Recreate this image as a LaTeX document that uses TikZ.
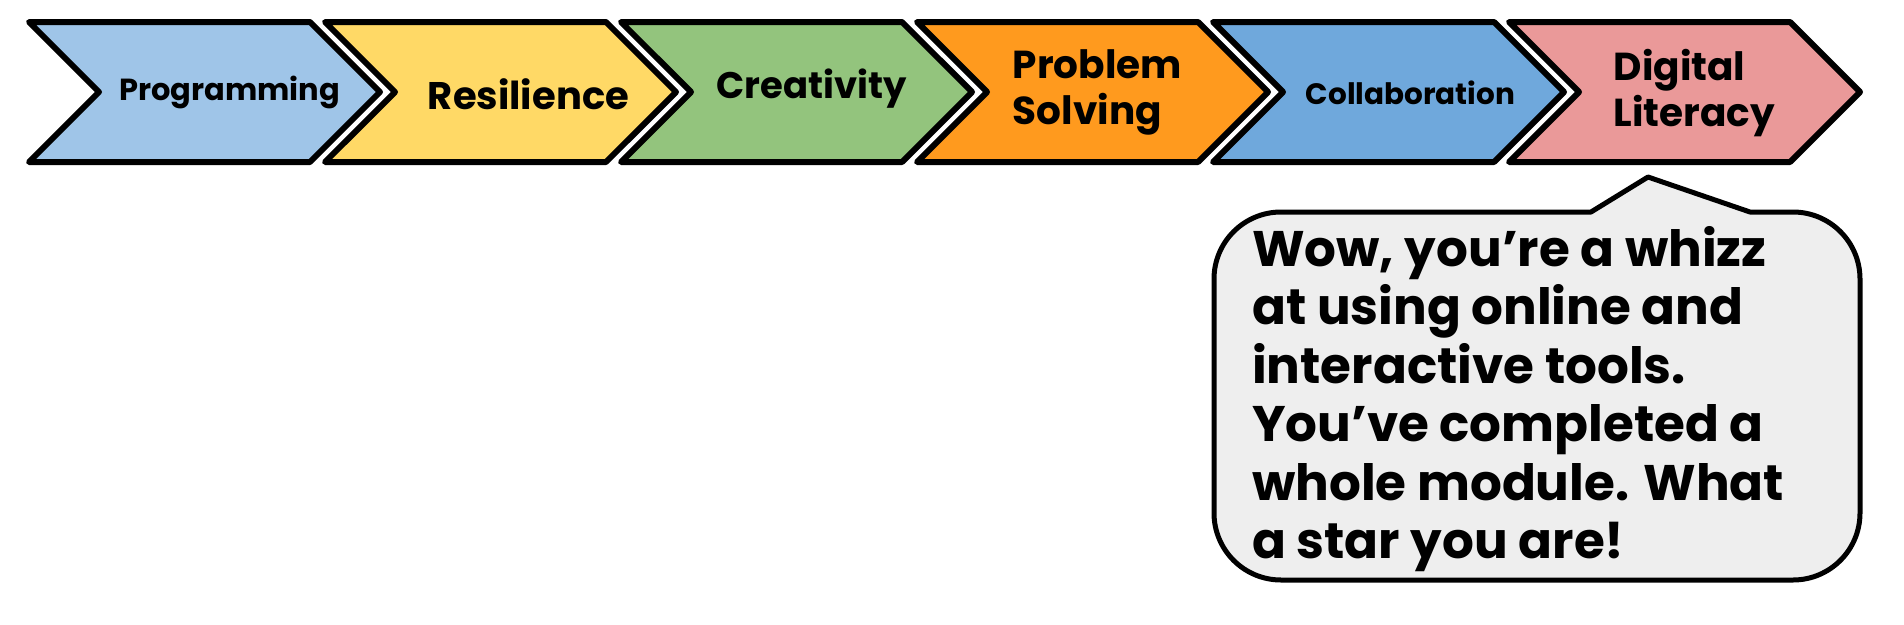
\documentclass[tikz,border=0pt]{standalone}
\usepackage{fontspec}
\setmainfont{Poppins}
\usetikzlibrary{shapes.symbols}

\definecolor{progblue}{HTML}{9FC5E8}
\definecolor{resilyellow}{HTML}{FFD966}
\definecolor{creatgreen}{HTML}{93C47D}
\definecolor{proborange}{HTML}{FF9A1E}
\definecolor{collabblue}{HTML}{6FA8DC}
\definecolor{digipink}{HTML}{EA9999}
\definecolor{bubblegrey}{HTML}{EEEEEE}

\tikzset{
	chev/.style={signal, signal from=west, signal to=east, signal pointer angle=90,
		minimum width=351pt, minimum height=140pt, inner sep=0pt,
		draw=black, line width=6pt, line join=round},
	chevtext/.style={inner sep=0pt, align=left, font=\bfseries\fontsize{#1}{46}\selectfont},
	bubble/.style={draw=black, line width=5pt, fill=bubblegrey, line join=round},
}

\begin{document}
\begin{tikzpicture}[x=1pt,y=-1pt]
		\useasboundingbox (0,0) rectangle (1904,624);
		
		% the six steps
		\foreach \col [count=\i from 0] in {progblue,resilyellow,creatgreen,proborange,collabblue,digipink}
			\node[chev, fill=\col] (c\i) at (204.5+296*\i,92) {};
		
		\node[chevtext=30.5] (prog) at ([shift={(25,0)}]c0.center) {Programming};
		\node[chevtext=38.5] (resil) at ([shift={(28,2)}]c1.center) {Resilience};
		\node[chevtext=37] (creat) at ([shift={(15,-3)}]c2.center) {Creativity};
		\node[chevtext=39] (probsolv) at ([shift={(5,0)}]c3.center) {Problem\\Solving};
		\node[chevtext=29.5] (collab) at ([shift={(22,1)}]c4.center) {Collaboration};
		\node[chevtext=39] (diglit) at ([shift={(10,1)}]c5.center) {Digital\\Literacy};
		
		% speech bubble under the last step
		\draw[bubble] (1648,177) -- (1750,212) [rounded corners=67pt] -- (1860,212) -- (1860,580)
			-- (1214,580) -- (1214,212) [sharp corners] -- (1591,212) -- cycle;
		\node[anchor=north west, inner sep=0pt, align=left, font=\bfseries\fontsize{50}{58.5}\selectfont]
			(msg) at (1252,226) {Wow, you’re a whizz\\at using online and\\interactive tools.\\You’ve completed a\\whole module. What\\a star you are!};
\end{tikzpicture}
\end{document}
